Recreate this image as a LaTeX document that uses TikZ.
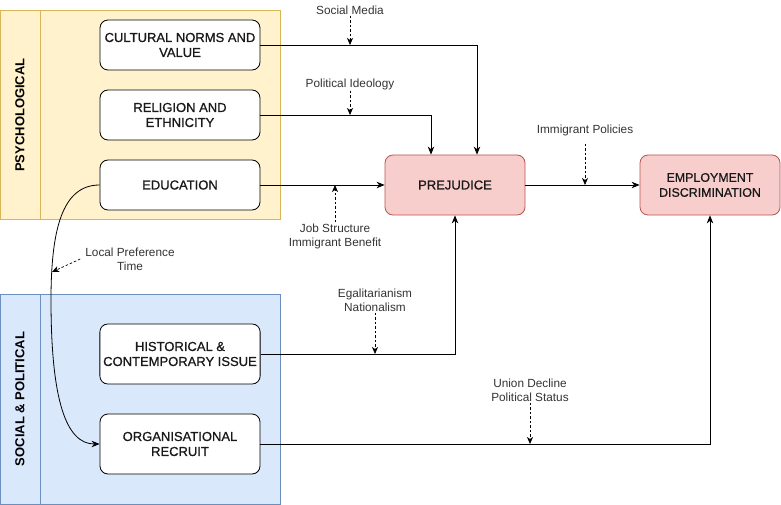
\documentclass[tikz,border=0pt]{standalone}
\usepackage{fontspec}
\setmainfont{Liberation Sans}
\newfontfamily\boxfont[FakeBold=0.8]{Liberation Sans}
\usepackage{xcolor}
\usepackage{tikz}
\definecolor{laneyellow}{HTML}{FFF2CC}
\definecolor{laneyellowline}{HTML}{D6B656}
\definecolor{laneblue}{HTML}{DAE8FC}
\definecolor{laneblueline}{HTML}{6C8EBF}
\definecolor{outcomered}{HTML}{F8CECC}
\definecolor{outcomeredline}{HTML}{B85450}
\definecolor{notegray}{RGB}{51, 51, 51}
\usetikzlibrary{shapes,arrows,arrows.meta,positioning,calc}

\begin{document}
\begin{tikzpicture}[
    x=1pt, y=-1pt,
    factor/.style={
        rectangle,
        rounded corners=8pt,
        minimum width=160pt,
        minimum height=50pt,
        align=center,
        font=\boxfont\fontsize{13}{15}\selectfont,
        text=black!90,
        draw=black,
        fill=white,
        line width=0.8pt
    },
    tallfactor/.style={factor, minimum height=60pt},
    outcome/.style={
        factor,
        minimum width=140pt,
        minimum height=60pt,
        fill=outcomered,
        draw=outcomeredline
    },
    lanetitle/.style={
        rotate=90,
        font=\fontsize{13}{15}\selectfont\bfseries
    },
    note/.style={
        align=center,
        text=notegray,
        inner sep=1pt,
        font=\fontsize{11.8}{14}\selectfont
    },
    link/.style={-{Stealth[length=8pt,width=6.5pt,inset=2.5pt]},line width=0.8pt},
    hint/.style={-{Stealth[length=7pt,width=6pt,inset=2pt]},dash pattern=on 2.5pt off 2pt,line width=0.7pt}
]
    \useasboundingbox (0,0) rectangle (781,505);

    % Psychological lane
    \draw[fill=laneyellow, draw=laneyellowline] (0,10) rectangle (280,219);
    \draw[draw=laneyellowline] (40,10) -- (40,219);
    \node[lanetitle] (psych) at (20,115) {PSYCHOLOGICAL};

    % Social and political lane
    \draw[fill=laneblue, draw=laneblueline] (0,294) rectangle (280,504);
    \draw[draw=laneblueline] (40,294) -- (40,504);
    \node[lanetitle] (social) at (20,399) {SOCIAL \& POLITICAL};

    % Factors
    \node[factor] (culture) at (180,45) {CULTURAL NORMS AND\\VALUE};
    \node[factor] (religion) at (180,115) {RELIGION AND\\ETHNICITY};
    \node[factor] (education) at (180,185) {EDUCATION};
    \node[tallfactor] (history) at (180,354) {HISTORICAL \&\\CONTEMPORARY ISSUE};
    \node[tallfactor] (recruit) at (180,444) {ORGANISATIONAL\\RECRUIT};

    % Outcomes
    \node[outcome] (prejudice) at (455,185) {PREJUDICE};
    \node[outcome, font=\boxfont\fontsize{12.4}{15}\selectfont] (employment) at (710,185) {EMPLOYMENT\\DISCRIMINATION};

    % Main links
    \draw[link] (culture.east) -- (477,45) -- (prejudice.north -| 477,0);
    \draw[link] (religion.east) -- (431,115) -- (prejudice.north -| 431,0);
    \draw[link] (education.east) -- (prejudice.west);
    \draw[link] (history.east) -- (history.east -| prejudice.south) -- (prejudice.south);
    \draw[link] (recruit.east) -- (recruit.east -| employment.south) -- (employment.south);
    \draw[link] (prejudice.east) -- (employment.west);
    \draw[link] (education.west) .. controls (62,185) and (51,230) .. (51,300)
        .. controls (51,400) and (66,444) .. (recruit.west);

    % Moderators
    \node[note] (media) at (350,10) {Social Media};
    \coordinate (mediatip) at (350,45);
    \draw[hint] (media.south) -- (mediatip);

    \node[note] (ideology) at (350,84) {Political Ideology};
    \coordinate (ideologytip) at (350,115);
    \draw[hint] (ideology.south) -- (ideologytip);

    \node[note] (jobs) at (335,236) {Job Structure\\Immigrant Benefit};
    \coordinate (jobstip) at (335,185);
    \draw[hint] (jobs.north) -- (jobstip);

    \node[note] (policies) at (585,130) {Immigrant Policies};
    \coordinate (policiestip) at (585,185);
    \draw[hint] ($(policies.south)+(0,7)$) -- (policiestip);

    \node[note] (equality) at (375,300) {Egalitarianism\\Nationalism};
    \coordinate (equalitytip) at (375,354);
    \draw[hint] (equality.south) -- (equalitytip);

    \node[note] (union) at (530,390) {Union Decline\\Political Status};
    \coordinate (uniontip) at (530,444);
    \draw[hint] (union.south) -- (uniontip);

    \node[note] (local) at (130,259) {Local Preference\\Time};
    \coordinate (localtip) at (52,272);
    \draw[hint] ($(local.west)+(-4,0)$) -- (localtip);
\end{tikzpicture}
\end{document}
